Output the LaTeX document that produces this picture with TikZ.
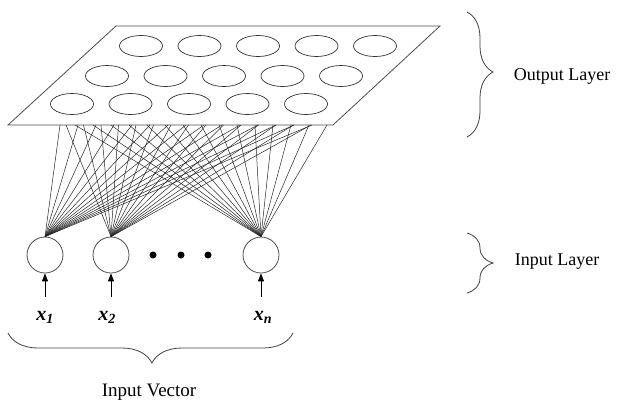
\documentclass[tikz,border=0pt]{standalone}
\usepackage{fontspec}
\setmainfont{Liberation Serif}
\usetikzlibrary{shapes.geometric,decorations.pathreplacing,arrows.meta}
\begin{document}
\begin{tikzpicture}[x=1pt,y=-1pt,
  plane/.style={draw=black!70,line width=0.8pt},
  outneuron/.style={draw=black!80,ellipse,minimum width=43pt,minimum height=21pt,inner sep=0pt,line width=0.7pt},
  inneuron/.style={draw=black!70,circle,minimum size=36pt,inner sep=0pt,line width=0.8pt},
  link/.style={draw=black!85,line width=0.5pt},
  dotnode/.style={fill=black,circle,minimum size=7pt,inner sep=0pt},
  inarrow/.style={draw=black,line width=0.9pt,-{Triangle[length=8pt,width=6pt]}},
  bracedeco/.style={draw=black!75,line width=0.8pt,decorate},
  lbl/.style={font=\fontsize{18}{20}\selectfont,anchor=base,inner sep=0pt},
  xlbl/.style={font=\fontsize{20}{22}\selectfont\bfseries\itshape,anchor=base,inner sep=0pt}
]
\useasboundingbox (0,0) rectangle (617,399);
% plane
\coordinate (tl) at (116,26);
\coordinate (tr) at (440,26);
\coordinate (br) at (333,125);
\coordinate (bl) at (8,125);
\draw[plane] (tl) -- (tr) -- (br) -- (bl) -- cycle;
% output neurons
\foreach \r/\y/\xs in {0/46/141,1/76/107,2/104/72}{
  \foreach \c in {0,...,4}{
    \node[outneuron] (o-\r-\c) at ({\xs+58.5*\c},\y) {};
  }
}
% input neurons
\node[inneuron] (i1) at (45,255) {};
\node[inneuron] (i2) at (111,255) {};
\node[inneuron] (in) at (261,255) {};
\node[dotnode] (d1) at (153,255) {};
\node[dotnode] (d2) at (181,255) {};
\node[dotnode] (d3) at (208,255) {};
% connections
\foreach \k in {0,...,14}{
  \coordinate (a\k) at ({60+18*\k},125);
  \coordinate (b\k) at ({66+17.5*\k},125);
  \coordinate (c\k) at ({75+18*\k},125);
  \draw[link] (a\k) -- (i1.north);
  \draw[link] (b\k) -- (i2.north);
  \draw[link] (c\k) -- (in.north);
}
% input arrows and labels
\coordinate (s1) at (45,297);
\coordinate (s2) at (111,297);
\coordinate (sn) at (261,297);
\draw[inarrow] (s1) -- (i1.south);
\draw[inarrow] (s2) -- (i2.south);
\draw[inarrow] (sn) -- (in.south);
\node[xlbl] (x1) at (45,320) {x\textsubscript{1}};
\node[xlbl] (x2) at (107,320) {x\textsubscript{2}};
\node[xlbl] (xn) at (263,320) {x\textsubscript{n}};
% braces
\coordinate (ob1) at (467,12);
\coordinate (ob2) at (467,137);
\draw[bracedeco,decoration={brace,amplitude=26pt,aspect=0.48}] (ob1) -- (ob2);
\coordinate (ib1) at (467,233);
\coordinate (ib2) at (467,293);
\draw[bracedeco,decoration={brace,amplitude=26pt}] (ib1) -- (ib2);
\coordinate (vb1) at (8,333);
\coordinate (vb2) at (293,333);
\draw[bracedeco,decoration={brace,mirror,amplitude=30pt,aspect=0.505}] (vb1) -- (vb2);
% labels
\node[lbl] (ol) at (562,80) {Output Layer};
\node[lbl] (il) at (557,265) {Input Layer};
\node[lbl,font=\fontsize{19}{21}\selectfont] (iv) at (149,396) {Input Vector};
\end{tikzpicture}
\end{document}
